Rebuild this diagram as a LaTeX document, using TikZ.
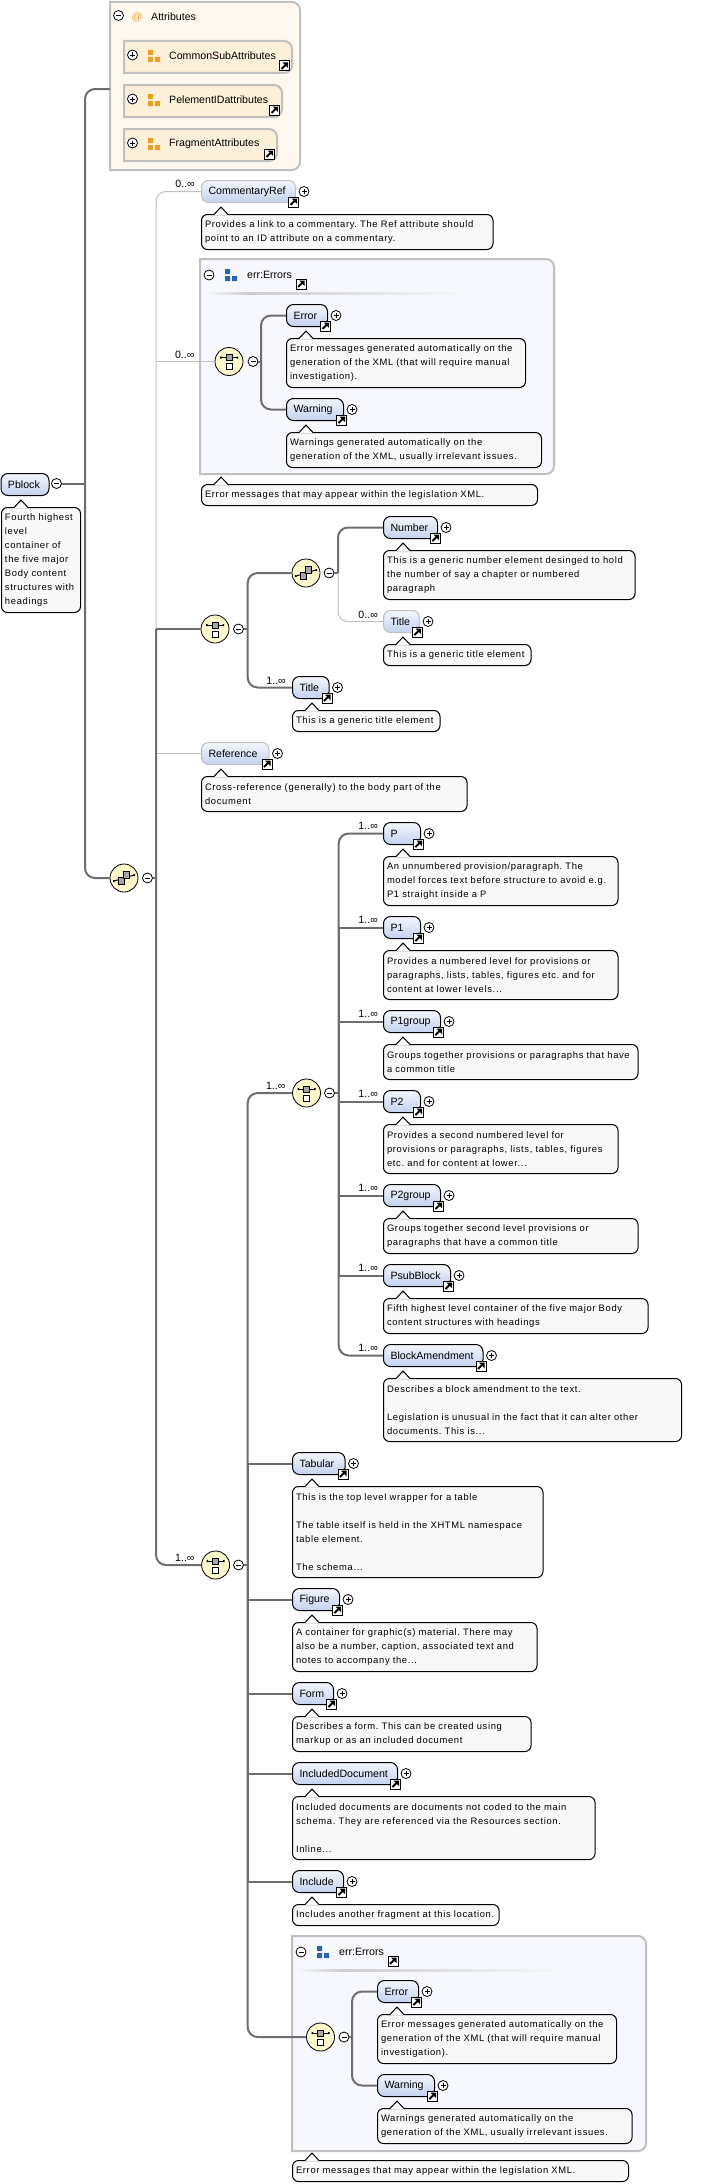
\documentclass[tikz,border=0pt]{standalone}
\usepackage{fontspec}
\usetikzlibrary{calc}
\setmainfont{Liberation Sans}
\newfontfamily\docfont[LetterSpace=7]{Liberation Sans}

\definecolor{attrbg}{HTML}{FFF8EE}
\definecolor{attrgrp}{HTML}{FDF0D8}
\definecolor{errbg}{HTML}{F6F8FD}
\definecolor{framegray}{HTML}{C0C0C0}
\definecolor{wiregray}{HTML}{6E6E6E}
\definecolor{docbg}{HTML}{F8F8F8}
\definecolor{seqbg}{HTML}{FCF8CC}
\definecolor{iconorange}{HTML}{E9A020}
\definecolor{iconblue}{HTML}{2A66AE}
\definecolor{elemtop}{HTML}{F4F6FC}
\definecolor{elembot}{HTML}{C3D2EF}

\tikzset{
  elem/.style={draw=black,line width=1pt,rounded corners=7pt,top color=elemtop,bottom color=elembot,
    minimum height=22pt,inner xsep=7pt,inner ysep=0pt,align=left,font=\fontsize{10.6}{12}\selectfont},
  elemopt/.style={elem,draw=framegray},
  doc/.style={draw=black,line width=1pt,rounded corners=6pt,fill=docbg,inner xsep=3.5pt,inner ysep=0pt,
    align=left,font=\docfont\fontsize{9.4}{14}\selectfont\frenchspacing},
  linkbox/.style={draw=black,fill=white,line width=1pt,minimum size=10pt,inner sep=0pt,
    path picture={\begin{scope}[shift={(path picture bounding box.center)}]
      \draw[line width=2pt] (-3,3) -- (1,-1);
      \fill[black] (3.5,-3.5) -- (-2,-3.5) -- (3.5,2) -- cycle;
    \end{scope}}},
  btn/.style={circle,draw=black,fill=white,line width=.8pt,minimum size=10pt,inner sep=0pt},
  plusbtn/.style={btn,path picture={\begin{scope}[shift={(path picture bounding box.center)}]
      \draw[line width=.8pt] (-2.5,0) -- (2.5,0) (0,-2.5) -- (0,2.5);
    \end{scope}}},
  minusbtn/.style={btn,path picture={\begin{scope}[shift={(path picture bounding box.center)}]
      \draw[line width=.8pt] (-2.5,0) -- (2.5,0);
    \end{scope}}},
  group/.style={circle,draw=black,fill=seqbg,line width=.8pt,minimum size=28pt,inner sep=0pt},
  allgroup/.style={group,path picture={\begin{scope}[shift={(path picture bounding box.center)}]
      \draw[line width=1pt] (-8,-4) -- (8,-4);
      \fill[black] (-9,-5) rectangle (-7.5,-3) (7.5,-5) rectangle (9,-3);
      \draw[fill=gray!70,line width=.8pt] (-3,-7) rectangle (3,-1);
      \draw[fill=white,line width=.8pt] (-3,2) rectangle (3,8);
    \end{scope}}},
  seqgroup/.style={group,path picture={\begin{scope}[shift={(path picture bounding box.center)}]
      \draw[line width=1pt] (-10,3) -- (10,-3);
      \fill[black] (-11,2) rectangle (-9.5,4) (9.5,-4) rectangle (11,-2);
      \draw[fill=gray!70,line width=.8pt] (-5.5,-1) rectangle (.5,6);
      \draw[fill=gray!70,line width=.8pt] (-.5,-7) rectangle (5.5,0);
    \end{scope}}},
  wire/.style={draw=wiregray,line width=2pt},
  optwire/.style={draw=framegray,line width=1pt},
  corner/.style={rounded corners=10pt},
  mult/.style={inner sep=0pt,font=\fontsize{10.6}{12}\selectfont,anchor=east},
  boxtitle/.style={inner sep=0pt,anchor=west,font=\fontsize{10.6}{12}\selectfont},
}

% name, x, y, width, text
\newcommand{\elemnode}[6][elem]{
  \pgfmathsetlengthmacro{\elemtw}{#5*1pt-14pt}
  \node[#1,anchor=north west,text width=\elemtw] (#2) at (#3,#4) {#6};
  \node[linkbox] (#2-link) at ($(#2.south east)+(-2.5,-1)$) {};
  \node[plusbtn] (#2-plus) at ($(#2.east)+(8,0)$) {};
}
% name, x, y, width, height, text
\newcommand{\docnode}[6]{
  \pgfmathsetlengthmacro{\doctw}{#4*1pt-7pt}
  \node[doc,anchor=north west,text width=\doctw,minimum height=#5pt] (#1) at (#2,#3) {#6};
  \fill[docbg] ($(#1.north west)+(13,1.2)$) -- ++(7,-8.2) -- ++(7,8.2) -- cycle;
  \draw[line width=1pt] ($(#1.north west)+(13,.5)$) -- ++(7,-7.5) -- ++(7,7.5);
}
\newcommand{\compframe}[6]{
  \draw[draw=framegray,line width=#6,fill=#5] (#1,#2) [rounded corners=8pt] -- (#3,#2) -- (#3,#4)
    [sharp corners] -- (#1,#4) -- cycle;
}
\newcommand{\groupicon}[3]{
  \fill[#3] (#1,#2) rectangle ++(5,5) (#1,#2+7) rectangle ++(5,5) (#1+7,#2+7) rectangle ++(5,5);
}
\newcommand{\attrgroup}[5]{
  \compframe{124}{#2}{#3}{#2+32}{attrgrp}{2pt}
  \node[plusbtn] (#1-plus) at (132.5,#2+14) {};
  \groupicon{148}{#2+9}{iconorange}
  \node[boxtitle] (#1) at (169,#2+14.5) {#4};
  \node[linkbox] (#1-link) at (#5,#2+25) {};
}
\newcommand{\errcomp}[3]{
  \compframe{#2}{#3}{#2+354}{#3+215}{errbg}{2pt}
  \node[minusbtn] (#1-minus) at (#2+9,#3+16) {};
  \groupicon{#2+25}{#3+10}{iconblue}
  \node[boxtitle] (#1) at (#2+47,#3+15.5) {err:Errors};
  \node[linkbox] (#1-link) at (#2+101,#3+25) {};
  \shade[left color=errbg,right color=framegray!80] (#2+5,#3+33) rectangle (#2+50,#3+35);
  \shade[left color=framegray!80,right color=errbg] (#2+50,#3+33) rectangle (#2+270,#3+35);
}

\begin{document}
\begin{tikzpicture}[x=1pt,y=-1pt]
\useasboundingbox (0,0) rectangle (704,2184);

\compframe{110}{2}{300}{170}{attrbg}{2pt}
\coordinate (attrs) at (110,89);
\node[minusbtn] (attrs-minus) at (118.5,15.5) {};
\node[boxtitle,text=iconorange] (attrs-icon) at (131.5,17) {@};
\node[boxtitle] (attrs-title) at (151,16.5) {Attributes};
\shade[left color=attrbg,middle color=gray!35,right color=attrbg] (113,29) rectangle (255,31);
\attrgroup{commonsub}{41}{292}{CommonSubAttributes}{284.5}
\attrgroup{pelementid}{85}{282}{PelementIDattributes}{274.5}
\attrgroup{fragment}{129}{277}{FragmentAttributes}{269.5}

\node[elem,anchor=north west,text width=34pt] (pblock) at (.5,473) {Pblock};
\node[minusbtn] (pblock-minus) at (56.5,483.5) {};
\docnode{pblock-doc}{1}{507}{79}{105}{Fourth highest\\level\\container of\\the five major\\Body content\\structures with\\headings}
\coordinate (rootjoin) at (85,483.5);

\node[seqgroup] (topseq) at (124,878) {};
\node[minusbtn] (topseq-minus) at (147.5,878) {};
\coordinate (topjoin) at (156,878);
\coordinate (optend) at (156,629);

\elemnode[elemopt]{commentary}{201}{180}{94}{CommentaryRef}
\docnode{commentary-doc}{201}{214}{291.5}{35}{Provides a link to a commentary. The Ref attribute should\\point to an ID attribute on a commentary.}

\errcomp{errsa}{200}{259}
\node[allgroup] (errsa-seq) at (229,361.5) {};
\node[minusbtn] (errsa-minus) at (253,361.5) {};
\coordinate (errsa-join) at (261,361.5);
\coordinate (errsa-opt) at (156,361.5);
\elemnode{errora}{286}{304}{41}{Error}
\docnode{errora-doc}{286}{338}{239}{49}{Error messages generated automatically on the\\generation of the XML (that will require manual\\investigation).}
\elemnode{warninga}{286}{398}{57}{Warning}
\docnode{warninga-doc}{286}{432}{255}{35}{Warnings generated automatically on the\\generation of the XML, usually irrelevant issues.}
\docnode{errsa-doc}{201}{484}{336}{21}{Error messages that may appear within the legislation XML.}

\node[allgroup] (choice) at (215,629) {};
\node[minusbtn] (choice-minus) at (238.5,629) {};
\coordinate (choice-join) at (247.7,629);
\node[seqgroup] (sub) at (306,573) {};
\node[minusbtn] (sub-minus) at (329,573) {};
\coordinate (sub-join) at (338,573);
\elemnode{number}{383}{516}{54}{Number}
\docnode{number-doc}{383}{550}{251.5}{49}{This is a generic number element desinged to hold\\the number of say a chapter or numbered\\paragraph}
\elemnode[elemopt]{titlea}{383}{610}{36}{Title}
\docnode{titlea-doc}{383}{644}{147.5}{21}{This is a generic title element}
\elemnode{titleb}{292}{676}{36.5}{Title}
\docnode{titleb-doc}{292}{710}{147.5}{21}{This is a generic title element}
\elemnode[elemopt]{reference}{201}{742}{67.5}{Reference}
\docnode{reference-doc}{201}{776}{265.5}{35}{Cross-reference (generally) to the body part of the\\document}

\node[allgroup] (pseq) at (306.5,1093) {};
\node[minusbtn] (pseq-minus) at (329.5,1093) {};
\coordinate (pseq-join) at (338.7,1093);
\elemnode{p}{383}{822}{37}{P}
\docnode{p-doc}{383}{856}{234.5}{49}{An unnumbered provision/paragraph. The\\model forces text before structure to avoid e.g.\\P1 straight inside a P}
\elemnode{pone}{383}{916}{37}{P1}
\docnode{pone-doc}{383}{950}{234.5}{49}{Provides a numbered level for provisions or\\paragraphs, lists, tables, figures etc. and for\\content at lower levels...}
\elemnode{ponegroup}{383}{1010}{57}{P1group}
\docnode{ponegroup-doc}{383}{1044}{254.5}{35}{Groups together provisions or paragraphs that have\\a common title}
\elemnode{ptwo}{383}{1090}{37}{P2}
\docnode{ptwo-doc}{383}{1124}{234.5}{49}{Provides a second numbered level for\\provisions or paragraphs, lists, tables, figures\\etc. and for content at lower...}
\elemnode{ptwogroup}{383}{1184}{57}{P2group}
\docnode{ptwogroup-doc}{383}{1218}{254.5}{35}{Groups together second level provisions or\\paragraphs that have a common title}
\elemnode{psubblock}{383}{1264}{67}{PsubBlock}
\docnode{psubblock-doc}{383}{1298}{264.5}{35}{Fifth highest level container of the five major Body\\content structures with headings}
\elemnode{blockam}{383}{1344}{99.5}{BlockAmendment}
\docnode{blockam-doc}{383}{1378}{298}{63}{Describes a block amendment to the text.\\[14pt]Legislation is unusual in the fact that it can alter other\\documents. This is...}

\node[allgroup] (bigseq) at (215.6,1565) {};
\node[minusbtn] (bigseq-minus) at (238.5,1565) {};
\coordinate (bigseq-join) at (247.7,1565);
\elemnode{tabular}{292}{1452}{52.5}{Tabular}
\docnode{tabular-doc}{292}{1486}{250.5}{91}{This is the top level wrapper for a table\\[14pt]The table itself is held in the XHTML namespace\\table element.\\[14pt]The schema...}
\elemnode{figure}{292}{1588}{47}{Figure}
\docnode{figure-doc}{292}{1622}{244.5}{49}{A container for graphic(s) material. There may\\also be a number, caption, associated text and\\notes to accompany the...}
\elemnode{form}{292}{1682}{41}{Form}
\docnode{form-doc}{292}{1716}{238.5}{35}{Describes a form. This can be created using\\markup or as an included document}
\elemnode{includeddoc}{292}{1762}{105}{IncludedDocument}
\docnode{includeddoc-doc}{292}{1796}{302.5}{63}{Included documents are documents not coded to the main\\schema. They are referenced via the Resources section.\\[14pt]Inline...}
\elemnode{include}{292}{1870}{51}{Include}
\docnode{include-doc}{292}{1904}{206.5}{21}{Includes another fragment at this location.}

\errcomp{errsb}{292}{1936}
\node[allgroup] (errsb-seq) at (320.5,2037) {};
\node[minusbtn] (errsb-minus) at (344,2037) {};
\coordinate (errsb-join) at (352,2037);
\elemnode{errorb}{377}{1980}{41}{Error}
\docnode{errorb-doc}{377}{2014}{239}{49}{Error messages generated automatically on the\\generation of the XML (that will require manual\\investigation).}
\elemnode{warningb}{377}{2074}{57}{Warning}
\docnode{warningb-doc}{377}{2108}{254.5}{35}{Warnings generated automatically on the\\generation of the XML, usually irrelevant issues.}
\docnode{errsb-doc}{292}{2160}{336}{21}{Error messages that may appear within the legislation XML.}

\draw[wire] (pblock-minus) -- (rootjoin);
\draw[wire,corner] (attrs) -| (rootjoin) |- (topseq.west);
\draw[wire] (topseq-minus) -- (topjoin);
\draw[optwire,corner] (commentary.west) -| (optend);
\draw[optwire] (errsa-opt) -- (errsa-seq.west);
\draw[optwire] (reference.west) -| (optend);
\draw[wire] (choice.west) -- (optend);
\draw[wire,corner] (optend) |- (bigseq.west);
\draw[wire] (errsa-minus) -- (errsa-join);
\draw[wire,corner] (errora.west) -| (errsa-join) |- (warninga.west);
\draw[wire] (choice-minus) -- (choice-join);
\draw[wire,corner] (sub.west) -| (choice-join) |- (titleb.west);
\draw[wire] (sub-minus) -- (sub-join);
\draw[wire,corner] (number.west) -| (sub-join);
\draw[optwire,corner] (titlea.west) -| (sub-join);
\draw[wire] (bigseq-minus) -- (bigseq-join);
\draw[wire,corner] (pseq.west) -| (bigseq-join) |- (errsb-seq.west);
\draw[wire] (tabular.west) -| (bigseq-join);
\draw[wire] (figure.west) -| (bigseq-join);
\draw[wire] (form.west) -| (bigseq-join);
\draw[wire] (includeddoc.west) -| (bigseq-join);
\draw[wire] (include.west) -| (bigseq-join);
\draw[wire] (pseq-minus) -- (pseq-join);
\draw[wire,corner] (p.west) -| (pseq-join) |- (blockam.west);
\draw[wire] (pone.west) -| (pseq-join);
\draw[wire] (ponegroup.west) -| (pseq-join);
\draw[wire] (ptwo.west) -| (pseq-join);
\draw[wire] (ptwogroup.west) -| (pseq-join);
\draw[wire] (psubblock.west) -| (pseq-join);
\draw[wire] (errsb-minus) -- (errsb-join);
\draw[wire,corner] (errorb.west) -| (errsb-join) |- (warningb.west);

\node[mult] (m-commentary) at ($(commentary.west)+(-6,-8)$) {0..∞};
\node[mult] (m-errsa) at ($(errsa-seq.west)+(-20,-7)$) {0..∞};
\node[mult] (m-titlea) at ($(titlea.west)+(-5,-7)$) {0..∞};
\node[mult] (m-titleb) at ($(titleb.west)+(-6,-7)$) {1..∞};
\node[mult] (m-p) at ($(p.west)+(-5,-7.5)$) {1..∞};
\node[mult] (m-pone) at ($(pone.west)+(-5,-7.5)$) {1..∞};
\node[mult] (m-ponegroup) at ($(ponegroup.west)+(-5,-7.5)$) {1..∞};
\node[mult] (m-ptwo) at ($(ptwo.west)+(-5,-7.5)$) {1..∞};
\node[mult] (m-ptwogroup) at ($(ptwogroup.west)+(-5,-7.5)$) {1..∞};
\node[mult] (m-psubblock) at ($(psubblock.west)+(-5,-7.5)$) {1..∞};
\node[mult] (m-blockam) at ($(blockam.west)+(-5,-7.5)$) {1..∞};
\node[mult] (m-pseq) at ($(pseq.west)+(-6.5,-7)$) {1..∞};
\node[mult] (m-bigseq) at ($(bigseq.west)+(-6.5,-7)$) {1..∞};
\end{tikzpicture}
\end{document}
